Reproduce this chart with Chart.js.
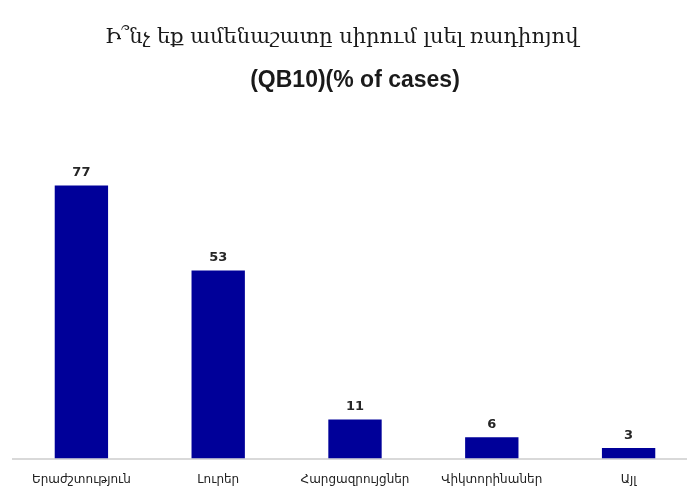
<!DOCTYPE html>
<html lang="hy">
<head>
<meta charset="UTF-8">
<title>QB10</title>
<script src="https://cdn.jsdelivr.net/npm/chart.js@4.4.1/dist/chart.umd.min.js"></script>
<style>
  html, body { margin: 0; padding: 0; background: #fff; overflow: hidden; }
  #wrap { position: absolute; left: 0; top: 0; width: 700px; height: 493px; }
</style>
</head>
<body>
<div id="wrap"><canvas id="canvas"></canvas></div>
<script>
    const categories = ['Երաժշտություն', 'Լուրեր', 'Հարցազրույցներ', 'Վիկտորինաներ', 'Այլ'];
    const values = [77, 53, 11, 6, 3];
    const titleText = 'Ի՞նչ եք ամենաշատը սիրում լսել ռադիոյով\u00a0\u00a0\u00a0\u00a0';
    const subtitleText = '(QB10)(% of cases)';

    // value labels above each bar
    const barLabels = {
        id: 'barLabels',
        afterDatasetsDraw(chart) {
            const ctx = chart.ctx;
            const meta = chart.getDatasetMeta(0);
            ctx.save();
            ctx.font = 'bold 13px "DejaVu Sans", sans-serif';
            ctx.fillStyle = '#262626';
            ctx.textAlign = 'center';
            ctx.textBaseline = 'bottom';
            meta.data.forEach(function(bar, i) {
                ctx.fillText(values[i], bar.x, bar.y - 6);
            });
            ctx.restore();
        }
    };

    const chart = new Chart('canvas', {
        type: 'bar',
        data: {
            labels: categories,
            datasets: [{
                data: values,
                backgroundColor: '#000099',
                categoryPercentage: 1,
                barPercentage: 0.39
            }]
        },
        options: {
            responsive: true,
            maintainAspectRatio: false,
            animation: false,
            layout: { padding: { left: 13, right: 3, top: 0, bottom: 0 } },
            plugins: {
                legend: { display: false },
                tooltip: { enabled: false },
                title: {
                    display: true,
                    text: titleText,
                    color: '#1a1a1a',
                    font: { family: '"DejaVu Serif", serif', size: 21, weight: 'normal' },
                    padding: { top: 25, bottom: 17 }
                },
                subtitle: {
                    display: true,
                    text: subtitleText,
                    color: '#1a1a1a',
                    font: { family: '"Liberation Sans", Arial, sans-serif', size: 23, weight: 'bold' },
                    padding: { top: 0, bottom: 80 }
                }
            },
            scales: {
                x: {
                    grid: { display: false },
                    border: { display: true, color: '#d9d9d9', width: 2 },
                    ticks: {
                        color: '#222',
                        font: { family: '"DejaVu Sans", sans-serif', size: 12 },
                        padding: 6,
                        maxRotation: 0
                    }
                },
                y: {
                    display: false,
                    min: 0,
                    max: 80
                }
            }
        },
        plugins: [barLabels]
    });
</script>
</body>
</html>
